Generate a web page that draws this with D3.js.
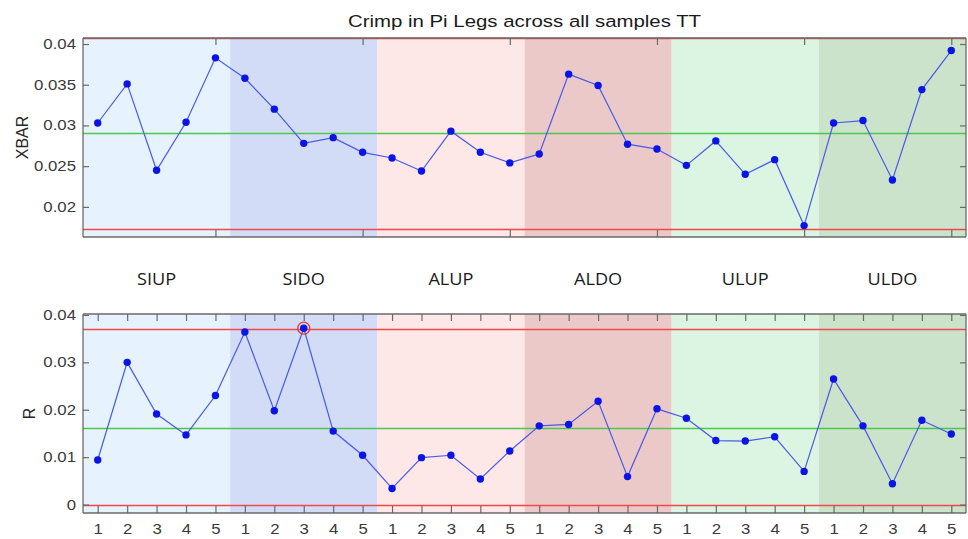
<!DOCTYPE html>
<html>
<head>
<meta charset="utf-8">
<script src="https://cdn.jsdelivr.net/npm/d3@7"></script>
<style>
  body { margin: 0; background: #fff; }
  svg text { font-family: "Liberation Sans", Arial, sans-serif; }
</style>
</head>
<body>
<svg id="chart" width="968" height="539"></svg>
<script>
// groups shown as shaded bands, 5 samples each
var groups = ["SIUP", "SIDO", "ALUP", "ALDO", "ULUP", "ULDO"];
var groupColors = ["#e6f2fd", "#d2dcf7", "#fde7e7", "#ecc9c9", "#dcf5e2", "#cbe2cb"];
var sampleLabels = [1, 2, 3, 4, 5];

// XBAR values
var xbar = [0.0303, 0.0351, 0.0245, 0.0304, 0.0383,
            0.0358, 0.0320, 0.0278, 0.0285, 0.0267,
            0.0260, 0.0244, 0.0293, 0.0267, 0.0254,
            0.0265, 0.0363, 0.0349, 0.0277, 0.0271,
            0.0251, 0.0281, 0.0240, 0.0258, 0.0177,
            0.0303, 0.0306, 0.0233, 0.0344, 0.0392];
// R values
var rvals = [0.0094, 0.0300, 0.0191, 0.0147, 0.0230,
             0.0364, 0.0198, 0.0372, 0.0155, 0.0104,
             0.0034, 0.0099, 0.0104, 0.0054, 0.0113,
             0.0166, 0.0169, 0.0218, 0.0059, 0.0202,
             0.0182, 0.0135, 0.0134, 0.0143, 0.0070,
             0.0265, 0.0166, 0.0044, 0.0178, 0.0149];

// control limits
var xbarLimits = {ucl: 0.0407, cl: 0.02907, lcl: 0.01731};
var rLimits = {ucl: 0.03697, cl: 0.01618, lcl: 0};

var xbarTicks = [0.02, 0.025, 0.03, 0.035, 0.04];
var rTicks = [0, 0.01, 0.02, 0.03, 0.04];

var svg = d3.select("#chart");
var left = 83, right = 966;
var n = xbar.length;
var stretch = 1.2; // the picture is a bit wider than tall text would give

var x = d3.scaleLinear().domain([0.5, n + 0.5]).range([left, right]);

// widen text horizontally around its own anchor
function widen(sel, k) {
  sel.each(function() {
    var t = d3.select(this), tx = +t.attr("x") || 0;
    t.attr("x", 0).attr("transform", "translate(" + tx + ",0) scale(" + k + ",1)");
  });
}

function drawPanel(opt) {
  var y = d3.scaleLinear().domain(opt.domain).range([opt.bottom, opt.top]);
  var g = svg.append("g");

  // shaded group bands
  g.selectAll("rect.band")
    .data(groups)
    .enter().append("rect")
    .attr("class", "band")
    .attr("x", (d, i) => x(i * 5 + 0.5))
    .attr("width", x(5.5) - x(0.5))
    .attr("y", opt.top)
    .attr("height", opt.bottom - opt.top)
    .attr("fill", (d, i) => groupColors[i]);

  // control lines
  [["ucl", "#f04848"], ["lcl", "#f04848"], ["cl", "#4cc84c"]].forEach(function(c) {
    var yy = Math.round(y(opt.limits[c[0]])) + 0.5;
    g.append("line")
      .attr("x1", left).attr("x2", right)
      .attr("y1", yy).attr("y2", yy)
      .attr("stroke", c[1]).attr("stroke-width", 1.4);
  });

  // axes (box style, ticks pointing inward)
  var axColor = "#6a6a6a";
  var yl = g.append("g").attr("transform", "translate(" + left + ",0)")
    .call(d3.axisLeft(y).tickValues(opt.yTicks).tickSize(-6).tickPadding(7).tickFormat(d => +d.toFixed(3) + ""));
  var yr = g.append("g").attr("transform", "translate(" + right + ",0)")
    .call(d3.axisRight(y).tickValues(opt.yTicks).tickSize(-6).tickFormat(""));
  var xb = g.append("g").attr("transform", "translate(0," + opt.bottom + ")")
    .call(d3.axisBottom(x).tickValues(opt.xTicks).tickSize(-7).tickPadding(11)
      .tickFormat(opt.xLabels ? (d => sampleLabels[(d - 1) % 5]) : ""));
  var xt = g.append("g").attr("transform", "translate(0," + opt.top + ")")
    .call(d3.axisTop(x).tickValues(opt.xTicks).tickSize(-7).tickFormat(""));
  [yl, yr, xb, xt].forEach(function(a) {
    a.select(".domain").attr("stroke", axColor).attr("stroke-width", 1.3);
    a.selectAll(".tick line").attr("stroke", axColor).attr("stroke-width", 1.2);
    a.selectAll(".tick text").attr("fill", "#3a3a3a").style("font-size", "14px");
  });
  widen(yl.selectAll(".tick text"), stretch);
  widen(xb.selectAll(".tick text"), stretch);
  yl.select(".domain").attr("d", "M0," + opt.top + "V" + opt.bottom);
  yr.select(".domain").attr("d", "M0," + opt.top + "V" + opt.bottom);
  xb.select(".domain").attr("d", "M" + left + ",0H" + right);
  xt.select(".domain").attr("d", "M" + left + ",0H" + right);

  // data line and markers
  var line = d3.line().x((d, i) => x(i + 1)).y(d => y(d));
  g.append("path").datum(opt.values)
    .attr("d", line).attr("fill", "none")
    .attr("stroke", "#4a5ae6").attr("stroke-width", 1.2);
  g.selectAll("circle.pt").data(opt.values).enter().append("circle")
    .attr("class", "pt")
    .attr("cx", (d, i) => x(i + 1)).attr("cy", d => y(d))
    .attr("r", 3.7).attr("fill", "#0a14e6");

  // out-of-control markers
  g.selectAll("circle.ooc")
    .data(opt.values.map((v, i) => ({v: v, i: i})).filter(d => d.v > opt.limits.ucl || d.v < opt.limits.lcl))
    .enter().append("circle").attr("class", "ooc")
    .attr("cx", d => x(d.i + 1)).attr("cy", d => y(d.v))
    .attr("r", 6).attr("fill", "none").attr("stroke", "#e03c3c").attr("stroke-width", 1.3);

  // y label
  svg.append("text")
    .attr("transform", "translate(" + opt.labelX + "," + (opt.top + opt.bottom) / 2 + ") rotate(-90)")
    .attr("text-anchor", "middle").attr("fill", "#262626")
    .style("font-size", "16px").text(opt.label);
}

drawPanel({
  values: xbar, limits: xbarLimits, domain: [0.01630, 0.04074],
  top: 38, bottom: 237, yTicks: xbarTicks,
  xTicks: d3.range(5, n + 1, 5), xLabels: false,
  label: "XBAR", labelX: 28
});

drawPanel({
  values: rvals, limits: rLimits, domain: [-0.00178, 0.04020],
  top: 314, bottom: 513, yTicks: rTicks,
  xTicks: d3.range(1, n + 1), xLabels: true,
  label: "R", labelX: 35
});

// title
svg.append("text")
  .attr("transform", "translate(" + (left + right) / 2 + ",27) scale(" + stretch + ",1)")
  .attr("text-anchor", "middle").attr("fill", "#1a1a1a")
  .style("font-size", "17px")
  .text("Crimp in Pi Legs across all samples TT");

// group names between the panels
svg.selectAll("text.group").data(groups).enter().append("text")
  .attr("class", "group")
  .attr("transform", (d, i) => "translate(" + x(i * 5 + 3) + ",285) scale(1.1,1)")
  .attr("text-anchor", "middle").attr("fill", "#1a1a1a")
  .style("font-family", "'Open Sans', sans-serif").style("font-size", "16.5px")
  .text(d => d);
</script>
</body>
</html>
